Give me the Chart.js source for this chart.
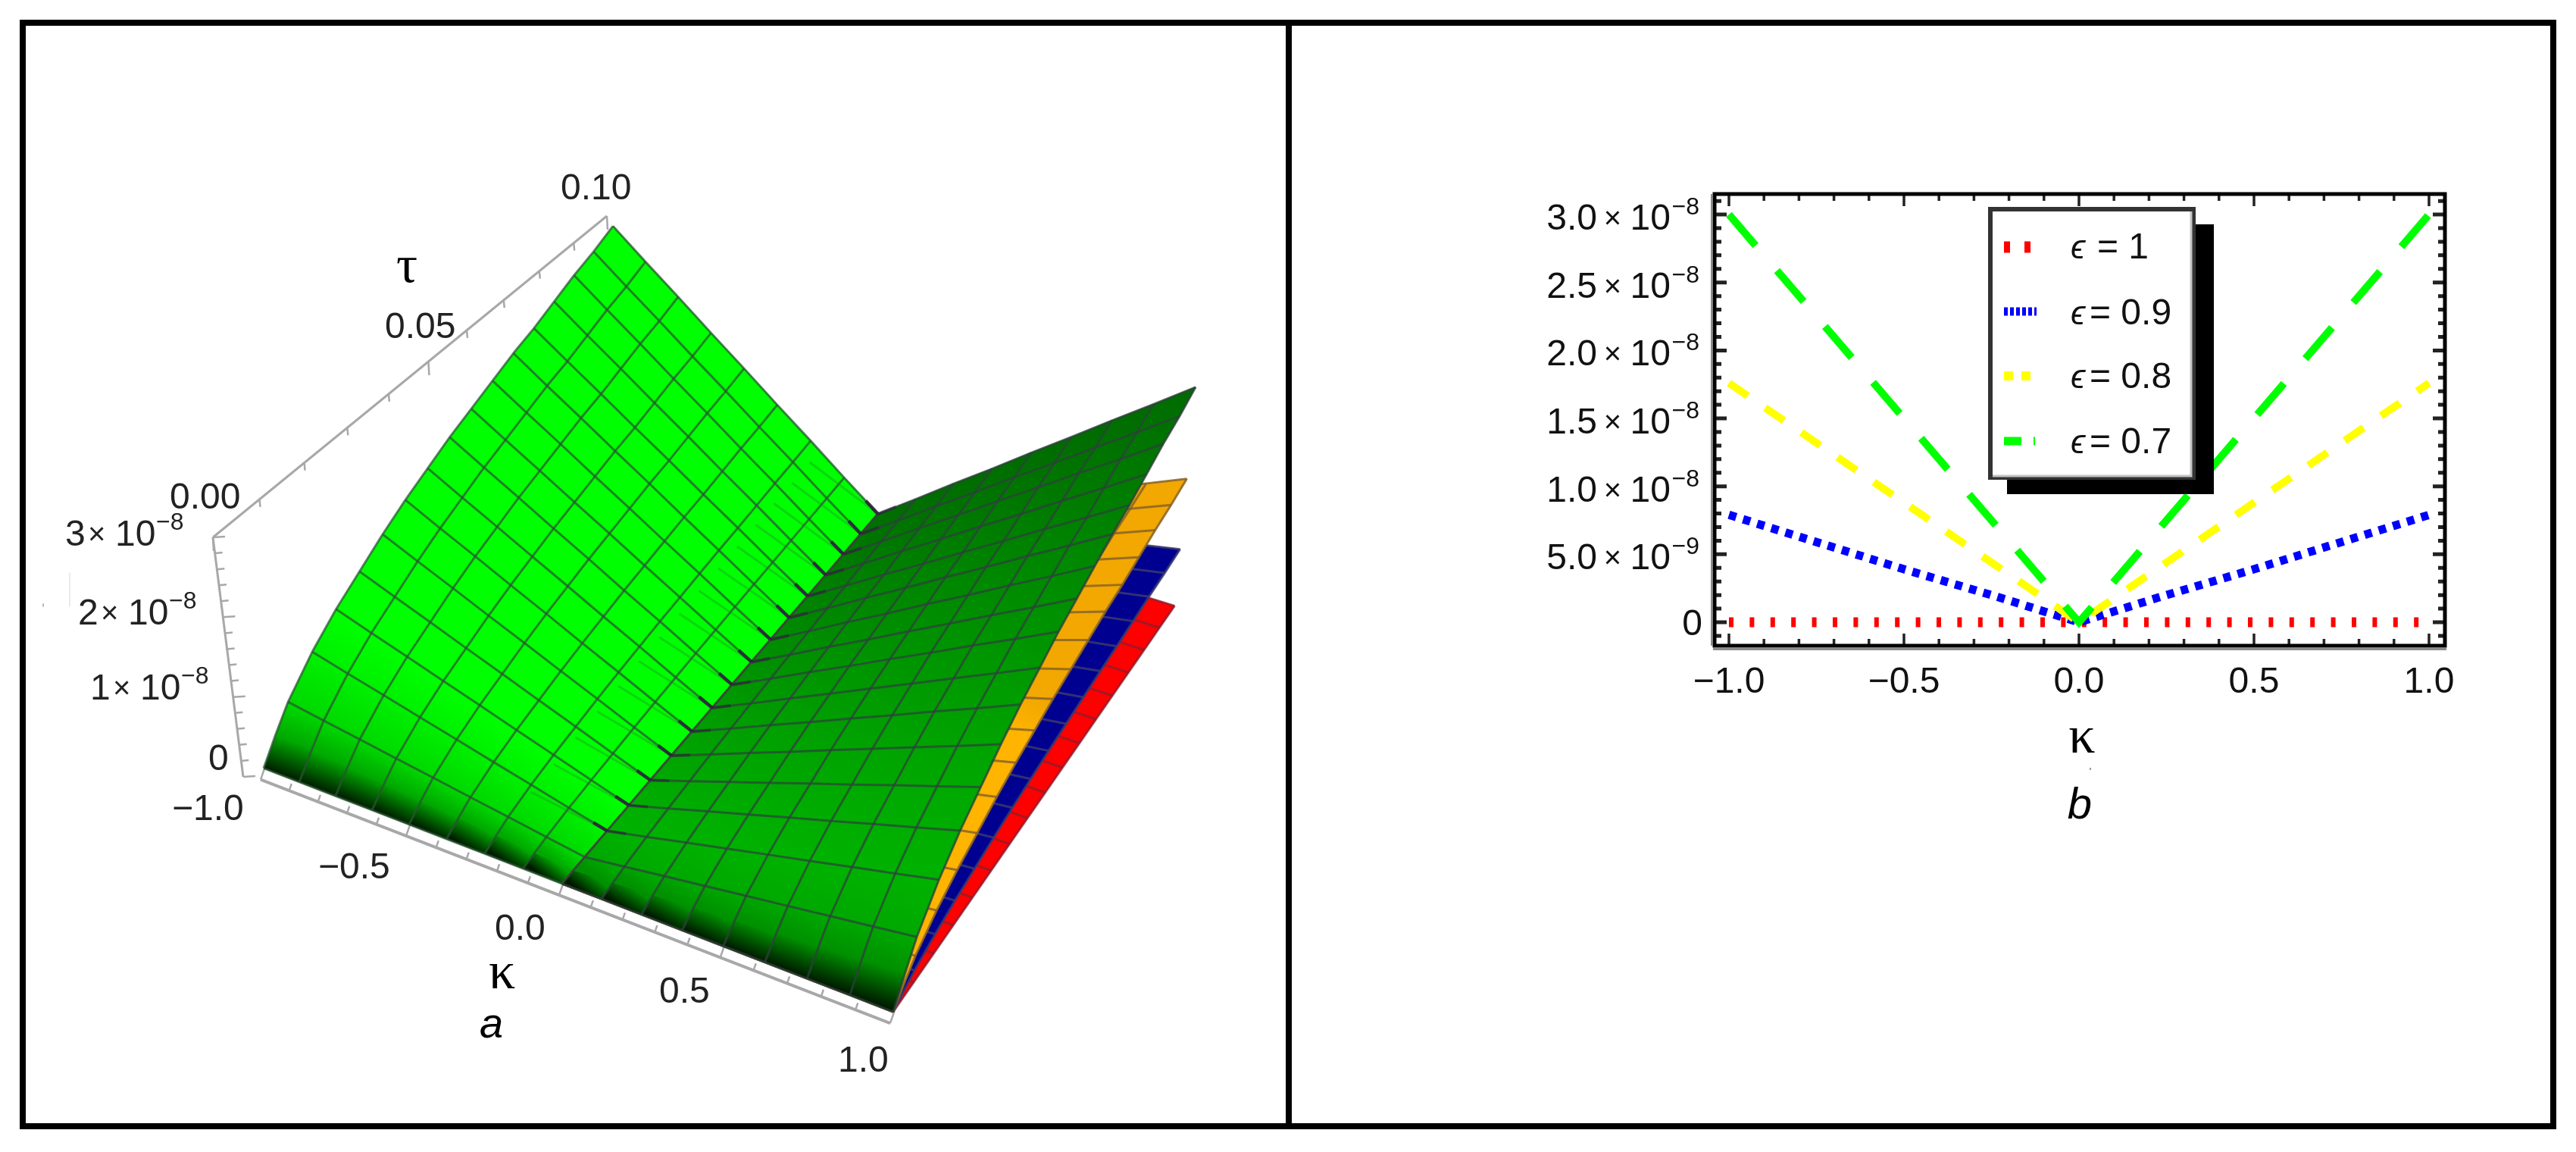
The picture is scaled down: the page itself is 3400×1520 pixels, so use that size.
<!DOCTYPE html>
<html>
<head>
<meta charset="utf-8">
<style>
  html, body { margin: 0; padding: 0; background: #fff; }
  #stage { position: relative; width: 3400px; height: 1520px; overflow: hidden; }
  canvas { position: absolute; top: 0; }
  #chartA { left: 0; }
  #chartB { left: 1700px; }
  .rule { position: absolute; background: #000; }
</style>
<script src="https://cdn.jsdelivr.net/npm/chart.js@4/dist/chart.umd.min.js"></script>
</head>
<body>
<div id="stage">
  <canvas id="chartA" width="1700" height="1520"></canvas>
  <canvas id="chartB" width="1700" height="1520"></canvas>
  <div class="rule" style="left:26px;top:26px;width:3348px;height:8px"></div>
  <div class="rule" style="left:26px;top:1482px;width:3348px;height:8px"></div>
  <div class="rule" style="left:26px;top:26px;width:8px;height:1464px"></div>
  <div class="rule" style="left:3366px;top:26px;width:8px;height:1464px"></div>
  <div class="rule" style="left:1697px;top:26px;width:8px;height:1464px"></div>
</div>
<script>
// panel b
const kappaValues = [-1, -0.75, -0.5, -0.25, 0, 0.25, 0.5, 0.75, 1];
const eps10 = [0, 0, 0, 0, 0, 0, 0, 0, 0];
const eps09 = [0.79e-8, 0.59e-8, 0.39e-8, 0.2e-8, 0, 0.2e-8, 0.39e-8, 0.59e-8, 0.79e-8];
const eps08 = [1.76e-8, 1.32e-8, 0.88e-8, 0.44e-8, 0, 0.44e-8, 0.88e-8, 1.32e-8, 1.76e-8];
const eps07 = [3.0e-8, 2.25e-8, 1.5e-8, 0.75e-8, 0, 0.75e-8, 1.5e-8, 2.25e-8, 3.0e-8];
const xTickValues = [-1, -0.5, 0, 0.5, 1];
const yTickValues = [0, 0.5e-8, 1e-8, 1.5e-8, 2e-8, 2.5e-8, 3e-8];
const yTickMantissas = ['0', '5.0', '1.0', '1.5', '2.0', '2.5', '3.0'];
const yTickPowers = ['', '\u22129', '\u22128', '\u22128', '\u22128', '\u22128', '\u22128'];
const legendSymbols = ['\u03f5', '\u03f5', '\u03f5', '\u03f5'];
const legendTexts = ['= 1', '= 0.9', '= 0.8', '= 0.7'];

// panel a, surface read off at the mesh lines (values in units of 1e-8, at tau = 0.10)
// index 1 of the tau lists has no mesh line, it only carries the steep start of the curve
const meshKappa = [-1, -0.875, -0.75, -0.625, -0.5, -0.375, -0.25, -0.125, 0, 0.125, 0.25, 0.375, 0.5, 0.625, 0.75, 0.875, 1];
const meshTau = [0, 0.003125, 0.00625, 0.0125, 0.01875, 0.025, 0.03125, 0.0375, 0.04375, 0.05, 0.05625, 0.0625, 0.06875, 0.075, 0.08125, 0.0875, 0.09375, 0.1];
const tauGrowth = [0, 0.10, 0.19, 0.31, 0.40, 0.47, 0.54, 0.60, 0.65, 0.70, 0.74, 0.78, 0.82, 0.85, 0.89, 0.93, 0.96, 1];
const surface07 = [3.0, 2.62, 2.25, 1.87, 1.5, 1.12, 0.75, 0.37, 0, 0.37, 0.75, 1.12, 1.5, 1.87, 2.25, 2.62, 3.0];
const surface08 = [1.76, 1.54, 1.32, 1.10, 0.88, 0.66, 0.44, 0.22, 0, 0.22, 0.44, 0.66, 0.88, 1.10, 1.32, 1.54, 1.76];
const surface09 = [0.79, 0.69, 0.59, 0.49, 0.39, 0.30, 0.2, 0.1, 0, 0.1, 0.2, 0.30, 0.39, 0.49, 0.59, 0.69, 0.79];
const surface10 = [0, 0, 0, 0, 0, 0, 0, 0, 0, 0, 0, 0, 0, 0, 0, 0, 0];

const sans = '"Liberation Sans", Arial, sans-serif';
const serif = '"Liberation Serif", serif';

// ---------- panel a ----------
// camera fitted to the corners of the box in the picture
function project(k, tau, v) {
  const t = tau / 0.1, z = v / 3;
  const w = 1 - 0.0517 * k + 0.165 * t - 0.0267 * z;
  return {
    x: (742 + 376 * k + 608 * t - 11.3 * z) / w,
    y: (1166 + 100 * k - 376 * t - 335 * z) / w
  };
}

const ctxA = document.getElementById('chartA').getContext('2d');
let setsA = [];

function lineSet(points, color, width) {
  setsA.push({ data: points, showLine: true, borderColor: color, borderWidth: width, pointRadius: 0, fill: false, borderJoinStyle: 'round' });
}

function addSheet(values, from, to, shade, meshColor) {
  for (let j = 0; j < meshTau.length - 1; j++) {
    for (let i = from; i < to; i++) {
      const a = project(meshKappa[i], meshTau[j], values[i] * tauGrowth[j]);
      const b = project(meshKappa[i + 1], meshTau[j], values[i + 1] * tauGrowth[j]);
      const c = project(meshKappa[i + 1], meshTau[j + 1], values[i + 1] * tauGrowth[j + 1]);
      const d = project(meshKappa[i], meshTau[j + 1], values[i] * tauGrowth[j + 1]);
      const g = ctxA.createLinearGradient((a.x + b.x) / 2, (a.y + b.y) / 2, (c.x + d.x) / 2, (c.y + d.y) / 2);
      g.addColorStop(0, shade(j));
      g.addColorStop(1, shade(j + 1));
      setsA.push({ data: [a, b, c, d], showLine: true, borderWidth: 1, borderColor: g, backgroundColor: g, fill: 'shape', pointRadius: 0 });
    }
  }
  for (let i = from; i <= to; i++) {
    lineSet(meshTau.map((tau, j) => project(meshKappa[i], tau, values[i] * tauGrowth[j])), meshColor, 3);
  }
  for (let j = 0; j < meshTau.length; j++) {
    if (j == 1) continue;
    let pts = [];
    for (let i = from; i <= to; i++) pts.push(project(meshKappa[i], meshTau[j], values[i] * tauGrowth[j]));
    lineSet(pts, meshColor, 3);
  }
}

function shadeLeft(j) {
  return ['#001c00', '#00a800', '#00d800', '#00f000'][j] || '#00ff00';
}
function shadeRight(j) {
  if (j == 0) return '#001800';
  if (j == 1) return '#009000';
  if (j == 2) return '#00a800';
  return 'rgb(0,' + Math.round(178 - 5 * (j - 3)) + ',0)';
}
function flat(low, high) {
  return function (j) { return j < 9 ? low : high; };
}

// box axes
const boxTop = { x: 281, y: 709 }, boxFloor = { x: 321, y: 1025 }, boxBack = { x: 801, y: 285 };
lineSet([boxTop, boxBack], '#a8a8a8', 3);
lineSet([boxTop, boxFloor], '#a8a8a8', 3);
lineSet(meshKappa.filter((k, i) => i == 0 || i == 16).map(k => { const p = project(k, 0, 0); return { x: p.x - 4, y: p.y + 15 }; }), '#a8a8a8', 4);
for (let i = -10; i <= 10; i++) {
  const p = project(i / 10, 0, 0), len = i % 5 == 0 ? 16 : 9;
  lineSet([{ x: p.x - 4, y: p.y + 15 }, { x: p.x - 4 + len * 0.35, y: p.y + 15 - len }], '#a8a8a8', 2.5);
}
for (let i = 0; i <= 10; i++) {
  const s = (i / 10) * 1.2075 / (1 + 0.2075 * i / 10), len = i == 5 || i == 0 || i == 10 ? 18 : 10;
  const x = boxTop.x + (boxBack.x - boxTop.x) * s, y = boxTop.y + (boxBack.y - boxTop.y) * s;
  lineSet([{ x: x, y: y }, { x: x + 1, y: y + len }], '#a8a8a8', 2.5);
}
for (let i = 0; i <= 15; i++) {
  const x = boxTop.x + (boxFloor.x - boxTop.x) * i / 15, y = boxTop.y + (boxFloor.y - boxTop.y) * i / 15;
  const len = i % 5 == 0 ? 16 : 10;
  lineSet([{ x: x, y: y }, { x: x + len, y: y - 1 }], '#a8a8a8', 2.5);
}
// stray marks left of the labels in the scan
lineSet([{ x: 92, y: 756 }, { x: 92, y: 800 }], '#e4e4e4', 1.5);
lineSet([{ x: 57, y: 797 }, { x: 57, y: 800 }], '#bdbdbd', 2);

// back to front
addSheet(surface07, 0, 8, shadeLeft, 'rgba(40,85,50,0.72)');
// mesh of the lower sheets shows through near the fold
for (let j = 3; j < meshTau.length; j++) {
  lineSet([6, 7, 8].map(i => project(meshKappa[i], meshTau[j], surface08[i] * tauGrowth[j])), 'rgba(40,120,50,0.3)', 3);
}
addSheet(surface10, 8, 16, flat('#ff0000', '#ff0000'), 'rgba(130,30,50,0.7)');
addSheet(surface09, 8, 16, flat('#000090', '#000090'), 'rgba(60,60,110,0.8)');
addSheet(surface08, 8, 16, flat('#ffb400', '#f2a800'), 'rgba(130,95,40,0.8)');
addSheet(surface07, 8, 16, shadeRight, 'rgba(45,65,60,0.72)');
// dark kinks where the tau lines cross the fold
for (let j = 3; j < meshTau.length; j++) {
  const kink = [-0.045, 0].map(k => project(k, meshTau[j], 3 * Math.abs(k) * tauGrowth[j]));
  lineSet(kink, 'rgba(45,25,60,0.8)', 4.5);
  const tail = [0, 0.06].map(k => project(k, meshTau[j], 3 * Math.abs(k) * tauGrowth[j]));
  lineSet(tail, 'rgba(45,25,60,0.5)', 4);
}

setsA.reverse();
setsA.forEach((s, i) => { s.order = i; });

const labelsA = [
  ['0.10', 740, 263], ['0.05', 508, 446], ['0.00', 224, 671],
  ['0', 275, 1016], ['\u22121.0', 227, 1082], ['\u22120.5', 420, 1159],
  ['0.0', 653, 1240], ['0.5', 870, 1323], ['1.0', 1106, 1414]
];
const powersA = [['3', 86, 720], ['2', 103, 824], ['1', 119, 923]];

const textA = {
  id: 'textA',
  afterDraw(chart) {
    const c = chart.ctx;
    c.save();
    c.fillStyle = '#222';
    c.textAlign = 'left';
    c.textBaseline = 'alphabetic';
    c.font = '48px ' + sans;
    labelsA.forEach(l => c.fillText(l[0], l[1], l[2]));
    powersA.forEach(l => {
      c.font = '48px ' + sans;
      c.fillText(l[0], l[1], l[2]);
      c.font = '40px ' + sans;
      c.fillText('\u00d7', l[1] + 30, l[2] - 2);
      c.font = '48px ' + sans;
      c.fillText('10', l[1] + 66, l[2]);
      c.font = '32px ' + sans;
      c.fillText('\u22128', l[1] + 120, l[2] - 21);
    });
    c.fillStyle = '#000';
    c.font = '70px ' + serif;
    c.fillText('\u03c4', 523, 372);
    c.fillText('\u03ba', 645, 1304);
    c.font = 'italic 56px ' + sans;
    c.fillText('a', 633, 1369);
    c.restore();
  }
};

new Chart(ctxA, {
  type: 'scatter',
  data: { datasets: setsA },
  options: {
    responsive: false,
    animation: false,
    events: [],
    layout: { padding: 0 },
    scales: {
      x: { type: 'linear', display: false, min: 0, max: 1700 },
      y: { type: 'linear', display: false, min: 0, max: 1520, reverse: true }
    },
    plugins: { legend: { display: false }, tooltip: { enabled: false } }
  },
  plugins: [textA]
});

// ---------- panel b ----------
function toPoints(values) {
  return kappaValues.map((k, i) => ({ x: k, y: values[i] }));
}

const framePlugin = {
  id: 'framePlugin',
  afterDatasetsDraw(chart) {
    const c = chart.ctx, a = chart.chartArea, xs = chart.scales.x, ys = chart.scales.y;
    c.save();
    // legend box with its hard shadow
    c.fillStyle = '#000';
    c.fillRect(949, 296, 273, 356);
    c.fillStyle = '#fff';
    c.fillRect(924, 273, 274, 360);
    c.strokeStyle = '#333';
    c.lineWidth = 6;
    c.strokeRect(927, 276, 268, 354);
    c.strokeStyle = '#c4c4c4';
    c.lineWidth = 3;
    c.beginPath();
    c.moveTo(930, 628); c.lineTo(1192, 628); c.lineTo(1192, 279);
    c.stroke();
    // samples, same dash look as the lines
    const samples = [['#ff0000', [8, 19], 15, 326], ['#0000ff', [5, 3], 11, 411], ['#ffff00', [12, 11], 12, 496], ['#00ff00', [23, 16, 2, 30], 11, 582]];
    samples.forEach(s => {
      c.strokeStyle = s[0];
      c.setLineDash(s[1]);
      c.lineWidth = s[2];
      c.beginPath();
      c.moveTo(945, s[3]);
      c.lineTo(988, s[3]);
      c.stroke();
    });
    c.setLineDash([]);
    // ticks on all four sides
    c.strokeStyle = '#222';
    c.lineWidth = 3.5;
    c.beginPath();
    for (let i = -10; i <= 10; i++) {
      const x = xs.getPixelForValue(i / 10), len = i % 5 == 0 ? 16 : 9;
      c.moveTo(x, a.bottom); c.lineTo(x, a.bottom - len);
      c.moveTo(x, a.top); c.lineTo(x, a.top + len);
    }
    c.stroke();
    c.lineWidth = 5;
    c.beginPath();
    for (let i = -1; i <= 31; i++) {
      const y = ys.getPixelForValue(i * 1e-9), len = i % 5 == 0 ? 16 : 9;
      c.moveTo(a.left, y); c.lineTo(a.left + len, y);
      c.moveTo(a.right, y); c.lineTo(a.right - len, y);
    }
    c.stroke();
    c.strokeStyle = '#000';
    c.lineWidth = 5;
    c.strokeRect(a.left, a.top, a.right - a.left, a.bottom - a.top);
    c.fillStyle = '#8c8c8c';
    c.fillRect(a.left - 5, a.top, 2, a.bottom - a.top);
    c.fillRect(a.left - 2, a.bottom + 3, a.right - a.left + 4, 3);
    c.restore();
  },
  afterDraw(chart) {
    const c = chart.ctx, ys = chart.scales.y;
    c.save();
    c.fillStyle = '#111';
    c.textBaseline = 'alphabetic';
    ys.ticks.forEach((t, i) => {
      const y = ys.getPixelForValue(t.value);
      c.textAlign = 'right';
      if (yTickPowers[i] == '') {
        c.font = '48px ' + sans;
        c.fillText(yTickMantissas[i], 547, y + 17);
        return;
      }
      c.font = '32px ' + sans;
      c.fillText(yTickPowers[i], 543, y);
      c.font = '48px ' + sans;
      c.fillText('10', 505, y + 20);
      c.font = '40px ' + sans;
      c.fillText('\u00d7', 440, y + 18);
      c.font = '48px ' + sans;
      c.fillText(yTickMantissas[i], 408, y + 20);
    });
    // legend text
    const rows = [341, 428, 512, 598];
    c.textAlign = 'left';
    legendTexts.forEach((s, i) => {
      c.font = 'italic 44px ' + sans + ', "DejaVu Sans"';
      c.fillText(legendSymbols[i], 1033, rows[i]);
      c.font = '48px ' + sans;
      c.fillText(s, i == 0 ? 1068 : 1058, rows[i]);
    });
    // axis name and panel letter
    c.textAlign = 'center';
    c.fillStyle = '#000';
    c.font = '70px ' + serif;
    c.fillText('\u03ba', 1048, 993);
    c.font = 'italic 58px ' + sans;
    c.fillText('b', 1045, 1080);
    c.fillStyle = '#9a9a9a';
    c.fillRect(1058, 1013, 2, 3);
    c.restore();
  }
};

new Chart(document.getElementById('chartB').getContext('2d'), {
  type: 'scatter',
  data: {
    datasets: [
      { label: '\u03f5= 0.7', data: toPoints(eps07), showLine: true, borderColor: '#00ff00', borderWidth: 10, borderDash: [54, 43.3], pointRadius: 0 },
      { label: '\u03f5= 0.8', data: toPoints(eps08), showLine: true, borderColor: '#ffff00', borderWidth: 10, borderDash: [30, 27.9], pointRadius: 0 },
      { label: '\u03f5= 0.9', data: toPoints(eps09), showLine: true, borderColor: '#0000ff', borderWidth: 11, borderDash: [10, 9.5], pointRadius: 0 },
      { label: '\u03f5 = 1', data: toPoints(eps10), showLine: true, borderColor: '#ff0000', borderWidth: 13, borderDash: [6, 21.4], pointRadius: 0 }
    ]
  },
  options: {
    responsive: false,
    animation: false,
    events: [],
    layout: { padding: { left: 563, right: 173, top: 256, bottom: 588 } },
    scales: {
      x: {
        type: 'linear',
        min: -1.0411,
        max: 1.0455,
        grid: { display: false },
        border: { display: false },
        afterBuildTicks: s => { s.ticks = xTickValues.map(v => ({ value: v })); },
        afterFit: s => { s.height = 80; },
        ticks: {
          color: '#111',
          padding: 12,
          maxRotation: 0,
          autoSkip: false,
          font: { family: 'Liberation Sans', size: 48 },
          callback: v => v.toFixed(1).replace('-', '\u2212')
        }
      },
      y: {
        type: 'linear',
        min: -0.1729e-8,
        max: 3.151e-8,
        grid: { display: false },
        border: { display: false },
        afterBuildTicks: s => { s.ticks = yTickValues.map(v => ({ value: v })); },
        afterFit: s => { s.width = 0; },
        ticks: { display: false }
      }
    },
    plugins: { legend: { display: false }, tooltip: { enabled: false } }
  },
  plugins: [framePlugin]
});
</script>
</body>
</html>
